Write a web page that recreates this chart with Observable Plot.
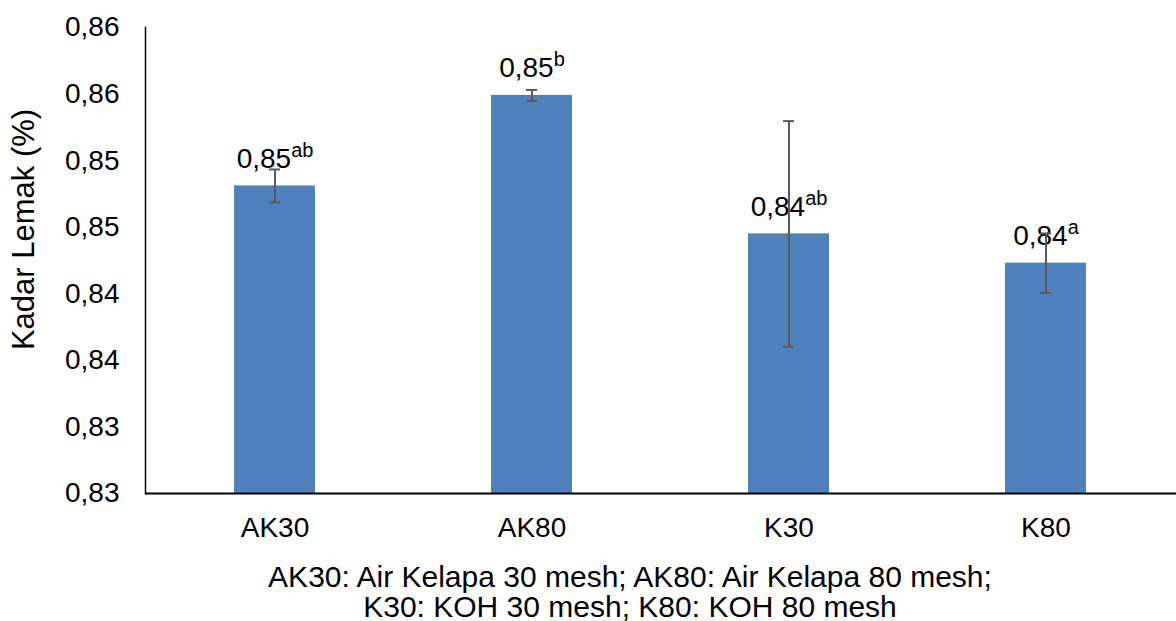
<!DOCTYPE html>
<html>
<head>
<meta charset="utf-8">
<script src="https://cdn.jsdelivr.net/npm/d3@7"></script>
<script src="https://cdn.jsdelivr.net/npm/@observablehq/plot@0.6"></script>
<style>
  html, body { margin: 0; padding: 0; background: #fff; }
  #chart { width: 1176px; }
  #caption {
    width: 1176px; box-sizing: border-box; padding-left: 84px;
    text-align: center; font-family: "Liberation Sans", Arial, sans-serif;
    font-size: 30px; line-height: 30px; color: #000; margin-top: 2px;
  }
</style>
</head>
<body>
<div id="chart"></div>
<div id="caption">AK30: Air Kelapa 30 mesh; AK80: Air Kelapa 80 mesh;<br>K30: KOH 30 mesh; K80: KOH 80 mesh</div>
<script>
const categories = ["AK30", "AK80", "K30", "K80"];
const means = [0.8481, 0.8549, 0.8445, 0.8423];
const errors = [0.00124, 0.00041, 0.00847, 0.00223];
const valueLabels = ["0,85", "0,85", "0,84", "0,84"];
const sigLetters = ["ab", "b", "ab", "a"];
const yTicks = [0.825, 0.830, 0.835, 0.840, 0.845, 0.850, 0.855, 0.860];
const yTickLabels = ["0,83", "0,83", "0,84", "0,84", "0,85", "0,85", "0,86", "0,86"];
const yTitle = "Kadar Lemak (%)";

const data = categories.map((c, i) => ({
  cat: c, mean: means[i], err: errors[i], label: valueLabels[i], sig: sigLetters[i]
}));
const yMin = yTicks[0], yMax = yTicks[yTicks.length - 1];
const errColor = "#595959";

const plot = Plot.plot({
  width: 1176,
  height: 560,
  marginTop: 27,
  marginBottom: 67,
  marginLeft: 145,
  marginRight: 0,
  style: { fontFamily: "'Liberation Sans', Arial, sans-serif", fontSize: "28px", background: "#fff", color: "#000" },
  x: { domain: categories, paddingInner: 0.683, paddingOuter: 0.3415, label: null },
  y: { domain: [yMin, yMax], label: null },
  marks: [
    Plot.barY(data, { x: "cat", y1: yMin, y2: "mean", fill: "#4F81BD" }),
    Plot.text(data, { x: "cat", y: "mean", text: d => d.label + "|" + d.sig, dy: -27, lineAnchor: "middle", fontSize: 28, fill: "#000" }),
    Plot.ruleX(data, { x: "cat", y1: d => d.mean - d.err, y2: d => d.mean + d.err, stroke: errColor, strokeWidth: 2 }),
    Plot.tickY(data, { x: "cat", y: d => d.mean + d.err, insetLeft: 35, insetRight: 35, stroke: errColor, strokeWidth: 2 }),
    Plot.tickY(data, { x: "cat", y: d => d.mean - d.err, insetLeft: 35, insetRight: 35, stroke: errColor, strokeWidth: 2 }),
    Plot.axisX({ tickSize: 0, tickPadding: 24, fontSize: 28, label: null }),
    Plot.axisY({ ticks: yTicks, tickSize: 0, tickPadding: 26, fontSize: 28, label: null,
      tickFormat: d => yTickLabels[yTicks.findIndex(t => Math.abs(t - d) < 1e-9)] }),
    Plot.ruleY([yMin], { stroke: "#000", strokeWidth: 2 }),
    Plot.frame({ anchor: "left", stroke: "#000", strokeWidth: 1.5 }),
    Plot.text([yTitle], { frameAnchor: "left", text: d => d, rotate: -90, textAnchor: "middle", lineAnchor: "middle",
      dx: -121, dy: -31, fontSize: 31, fill: "#000" })
  ]
});

plot.querySelectorAll("text").forEach(t => {
  if (t.textContent.includes("|")) {
    const [main, sup] = t.textContent.split("|");
    t.textContent = "";
    const ns = "http://www.w3.org/2000/svg";
    const a = document.createElementNS(ns, "tspan");
    a.textContent = main;
    const b = document.createElementNS(ns, "tspan");
    b.textContent = sup;
    b.setAttribute("font-size", "20");
    b.setAttribute("dy", "-11");
    t.appendChild(a);
    t.appendChild(b);
  }
});

document.getElementById("chart").appendChild(plot);
</script>
</body>
</html>
